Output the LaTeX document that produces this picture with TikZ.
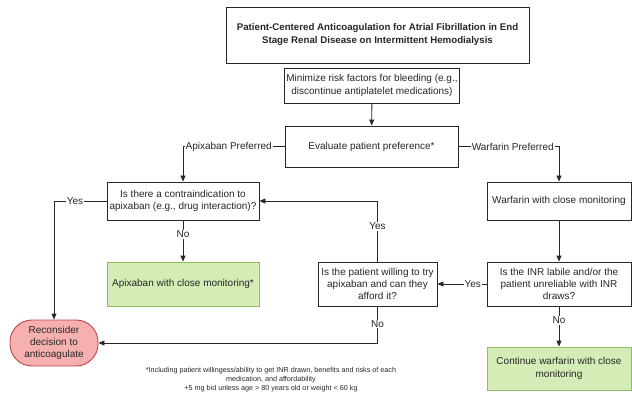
\documentclass[tikz,border=0pt]{standalone}
\usepackage{fontspec}
\setmainfont{Liberation Sans}
\usetikzlibrary{arrows.meta}
\definecolor{linec}{RGB}{40,40,40}
\definecolor{greenfill}{RGB}{212,236,182}
\definecolor{greenline}{RGB}{140,192,96}
\definecolor{redfill}{RGB}{246,176,176}
\definecolor{redline}{RGB}{190,70,70}
\tikzset{
  box/.style={draw=linec, line width=0.9pt, align=center, font=\fontsize{10}{12.2}\selectfont, inner sep=2pt, text=black!85},
  greenbox/.style={box, draw=greenline, fill=greenfill},
  redbox/.style={box, draw=redline, fill=redfill, rounded corners=22pt},
  conn/.style={draw=linec, line width=0.9pt},
  arr/.style={conn, -{Triangle[length=6pt,width=5pt]}},
  lbl/.style={fill=white, inner sep=1pt, font=\fontsize{10}{12}\selectfont, text=black!85},
}
\begin{document}
\begin{tikzpicture}[x=1pt,y=-1pt]
\useasboundingbox (0,0) rectangle (632,393);
\node[box, minimum width=303pt, minimum height=56pt, font=\fontsize{9.7}{13}\selectfont\bfseries] (title) at (377.5,35)
  {Patient-Centered Anticoagulation for Atrial Fibrillation in End\\Stage Renal Disease on Intermittent Hemodialysis};
\node[box, minimum width=170pt, minimum height=35pt] (min) at (372,85.5)
  {Minimize risk factors for bleeding (e.g.,\\discontinue antiplatelet medications)};
\node[box, minimum width=173pt, minimum height=41pt] (eval) at (371.5,146.5)
  {Evaluate patient preference*};
\node[box, minimum width=152pt, minimum height=38pt] (contra) at (183,201)
  {Is there a contraindication to\\apixaban (e.g., drug interaction)?};
\node[box, minimum width=144pt, minimum height=38pt] (warf) at (559,201)
  {Warfarin with close monitoring};
\node[greenbox, minimum width=152pt, minimum height=44pt] (apix) at (183,284)
  {Apixaban with close monitoring*};
\node[box, minimum width=119pt, minimum height=44pt] (will) at (377.5,284)
  {Is the patient willing to try\\apixaban and can they\\afford it?};
\node[box, minimum width=144pt, minimum height=44pt] (inr) at (559,284)
  {Is the INR labile and/or the\\patient unreliable with INR\\draws?};
\node[redbox, minimum width=88pt, minimum height=46pt] (recon) at (54,343)
  {Reconsider\\decision to\\anticoagulate};
\node[greenbox, minimum width=144pt, minimum height=43pt] (cont) at (559,368.5)
  {Continue warfarin with close\\monitoring};
\node[align=center, font=\fontsize{7.2}{9}\selectfont, text=black!85] (foot) at (271,379.5)
  {*Including patient willingess/ability to get INR drawn, benefits and risks of each\\medication, and affordability\\+5 mg bid unless age > 80 years old or weight < 60 kg};

\draw[arr] (min) -- (eval);
\draw[arr] (eval.west) -| node[lbl, pos=0.275] {Apixaban Preferred} (contra.north);
\draw[arr] (eval.east) -| node[lbl, pos=0.27] {Warfarin Preferred} (warf.north);
\draw[arr] (contra.west) -| node[lbl, pos=0.3] {Yes} (recon.north);
\draw[arr] (contra.south) -- node[lbl, pos=0.33] {No} (apix.north);
\draw[arr] (warf) -- (inr);
\draw[arr] (inr.west) -- node[lbl, pos=0.28] {Yes} (will.east);
\draw[arr] (inr.south) -- node[lbl, pos=0.34] {No} (cont.north);
\draw[arr] (will.north) |- node[lbl, pos=0.29] {Yes} (contra.east);
\draw[arr] (will.south) |- node[lbl, pos=0.24] {No} (recon.east);
\end{tikzpicture}
\end{document}
